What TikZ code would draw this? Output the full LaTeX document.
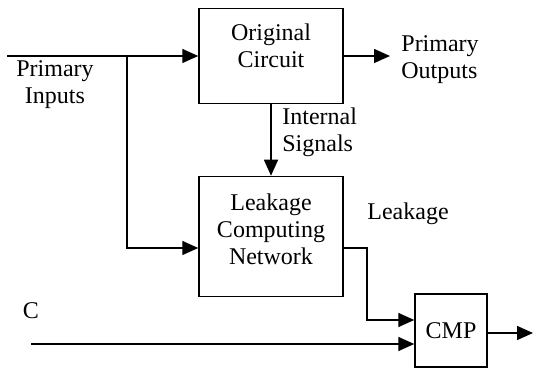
\documentclass[tikz,border=0pt]{standalone}
\usepackage{fontspec}
\setmainfont{Liberation Serif}
\usetikzlibrary{arrows.meta}

\begin{document}
\begin{tikzpicture}[x=0.5pt,y=-0.5pt]
    \tikzstyle{arrow} = [-{Triangle[length=8pt,width=7pt]}, line width=0.75pt]
    \tikzstyle{rec} = [rectangle, draw=black, line width=0.75pt, minimum width=72pt]
    \tikzstyle{txt} = [align=center, font=\fontsize{12}{13.5}\selectfont, inner sep=1pt]

    \useasboundingbox (0,0) rectangle (535,368);

    % blocks
    \node(orig) [rec, minimum height=47.5pt] at (271,56) {};
    \node(origtxt) [txt] at (271,46) {Original\\Circuit};

    \node(leak) [rec, minimum height=60pt] at (271,236.5) {};
    \node(leaktxt) [txt] at (271,229) {Leakage\\Computing\\Network};

    \node(cmp) [rec, minimum width=36pt, minimum height=36.5pt] at (451,330.5)
        [txt] {CMP};

    % labels
    \node(pin) [txt] at (55,85) {Primary\\Inputs};
    \node(pout) [txt, align=left, anchor=west] at (399,60) {Primary\\Outputs};
    \node(isig) [txt, align=left, anchor=west] at (280,132) {Internal\\Signals};
    \node(lklbl) [txt, anchor=west] at (365,214) {Leakage};
    \node(clbl) [txt] at (31,311) {C};

    \coordinate(in) at (7,56);
    \coordinate(split) at (127,56);
    \coordinate(cin) at (31,344);
    \coordinate(out) at (533,333);
    \coordinate(bend) at (367,248);

    % connections
    \draw[arrow] (in) -- (orig.west);
    \draw[arrow] (split) |- (leak.west |- 0,248);
    \draw[arrow] (orig.east) -- (390,56);
    \draw[arrow] (orig) -- (leak);
    \draw[arrow] (leak.east |- bend) -- (bend) |- (cmp.west |- 0,320);
    \draw[arrow] (cin) -- (cmp.west |- cin);
    \draw[arrow] (cmp.east |- out) -- (out);
\end{tikzpicture}
\end{document}
